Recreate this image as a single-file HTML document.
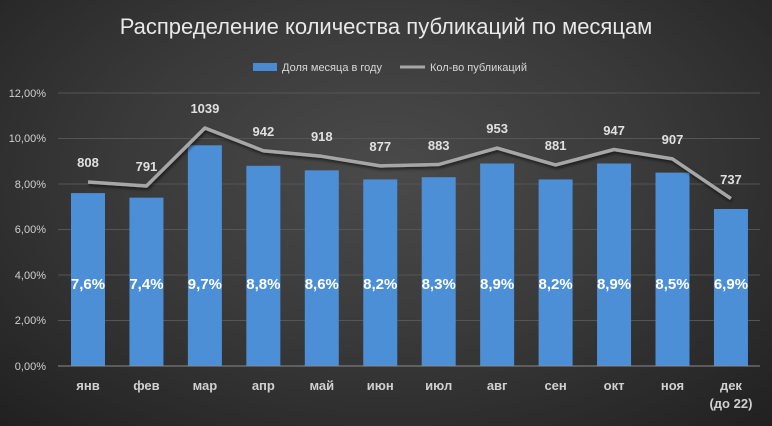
<!DOCTYPE html>
<html><head><meta charset="utf-8"><style>
html,body{margin:0;padding:0;}
body{width:772px;height:426px;overflow:hidden;background:radial-gradient(ellipse 75% 85% at 50% 40%,#4a4a4a 0%,#3a3a3a 45%,#1f1f1f 100%);}
svg{display:block;font-family:"Liberation Sans","DejaVu Sans",sans-serif;}
</style></head><body>
<svg width="772" height="426" viewBox="0 0 772 426">
<defs>
<filter id="sh"><feDropShadow dx="1" dy="2" stdDeviation="1.5" flood-color="#000" flood-opacity="0.6"/></filter>
</defs>
<text x="386" y="34" text-anchor="middle" font-size="22" fill="#e8e8e8">Распределение количества публикаций по месяцам</text>
<rect x="253" y="63" width="24" height="8" fill="#4a8ad0"/>
<text x="282" y="71" font-size="11" fill="#d8d8d8">Доля месяца в году</text>
<line x1="400" y1="67" x2="425" y2="67" stroke="#a6a6a6" stroke-width="3"/>
<text x="430" y="71" font-size="11" fill="#d8d8d8">Кол-во публикаций</text>
<g stroke="#555" stroke-width="1">
<line x1="58" y1="93" x2="760" y2="93"/><line x1="58" y1="138.5" x2="760" y2="138.5"/><line x1="58" y1="184" x2="760" y2="184"/><line x1="58" y1="229.5" x2="760" y2="229.5"/><line x1="58" y1="275" x2="760" y2="275"/><line x1="58" y1="320.5" x2="760" y2="320.5"/>
</g>
<g font-size="11" fill="#d0d0d0" text-anchor="end">
<text x="46" y="97">12,00%</text><text x="46" y="142">10,00%</text><text x="46" y="188">8,00%</text><text x="46" y="233">6,00%</text><text x="46" y="279">4,00%</text><text x="46" y="324">2,00%</text><text x="46" y="370">0,00%</text>
</g>
<g fill="#4d8fd6">
<rect x="71" y="193.1" width="34" height="172.9"/>
<rect x="129.45" y="197.65" width="34" height="168.35"/>
<rect x="187.9" y="145.3" width="34" height="220.7"/>
<rect x="246.35" y="165.8" width="34" height="200.2"/>
<rect x="304.8" y="170.35" width="34" height="195.65"/>
<rect x="363.25" y="179.45" width="34" height="186.55"/>
<rect x="421.7" y="177.2" width="34" height="188.8"/>
<rect x="480.15" y="163.5" width="34" height="202.5"/>
<rect x="538.6" y="179.45" width="34" height="186.55"/>
<rect x="597.05" y="163.5" width="34" height="202.5"/>
<rect x="655.5" y="172.6" width="34" height="193.4"/>
<rect x="713.95" y="209" width="34" height="157"/>
</g>
<line x1="58" y1="366" x2="760" y2="366" stroke="#8a8a8a" stroke-width="1"/>
<polyline points="88,182 146.45,186 204.9,128 263.35,150.7 321.8,156.3 380.25,165.9 438.7,164.5 497.15,148.1 555.6,164.9 614.05,149.5 672.5,158.9 730.95,198.6" fill="none" stroke="#a6a6a6" stroke-width="3.5" stroke-linejoin="round" filter="url(#sh)"/>
<g font-size="15" font-weight="bold" fill="#fff" text-anchor="middle">
<text x="88" y="289">7,6%</text><text x="146.45" y="289">7,4%</text><text x="204.9" y="289">9,7%</text><text x="263.35" y="289">8,8%</text><text x="321.8" y="289">8,6%</text><text x="380.25" y="289">8,2%</text><text x="438.7" y="289">8,3%</text><text x="497.15" y="289">8,9%</text><text x="555.6" y="289">8,2%</text><text x="614.05" y="289">8,9%</text><text x="672.5" y="289">8,5%</text><text x="730.95" y="289">6,9%</text>
</g>
<g font-size="13" font-weight="bold" fill="#e0e0e0" text-anchor="middle">
<text x="88" y="167">808</text><text x="146.45" y="171">791</text><text x="204.9" y="113">1039</text><text x="263.35" y="136">942</text><text x="321.8" y="141">918</text><text x="380.25" y="151">877</text><text x="438.7" y="150">883</text><text x="497.15" y="133">953</text><text x="555.6" y="150">881</text><text x="614.05" y="135">947</text><text x="672.5" y="144">907</text><text x="730.95" y="184">737</text>
</g>
<g font-size="13" font-weight="bold" fill="#d0d0d0" text-anchor="middle">
<text x="88" y="390">янв</text><text x="146.45" y="390">фев</text><text x="204.9" y="390">мар</text><text x="263.35" y="390">апр</text><text x="321.8" y="390">май</text><text x="380.25" y="390">июн</text><text x="438.7" y="390">июл</text><text x="497.15" y="390">авг</text><text x="555.6" y="390">сен</text><text x="614.05" y="390">окт</text><text x="672.5" y="390">ноя</text><text x="730.95" y="390">дек</text>
<text x="730.95" y="408">(до 22)</text>
</g>
</svg>
</body></html>
